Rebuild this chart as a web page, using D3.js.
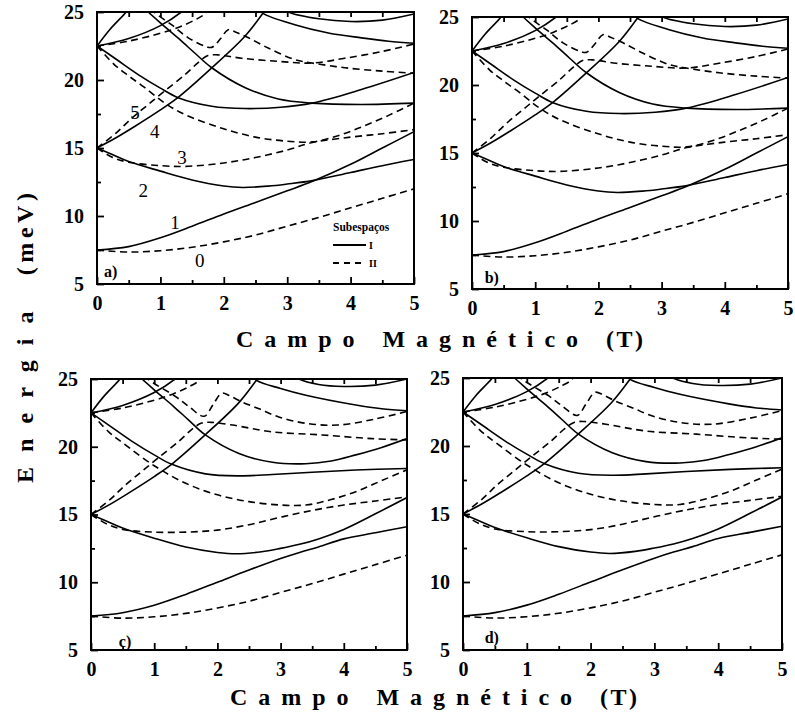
<!DOCTYPE html>
<html>
<head>
<meta charset="utf-8">
<script src="https://cdn.jsdelivr.net/npm/d3@7"></script>
<style>
  body { margin: 0; background: #fff; }
  text { font-family: "Liberation Serif", "Times New Roman", serif; fill: #000; }
</style>
</head>
<body>
<div id="container"></div>
<script>
/* DATA : energy levels (meV) vs magnetic field (T) */
const xTicks = [0, 1, 2, 3, 4, 5];
const yTicks = [5, 10, 15, 20, 25];
const levelNames = ["0", "1", "2", "3", "4", "5"];
const levelNameAt = [[1.62, 6.75], [1.23, 9.55], [0.73, 11.9], [1.34, 14.3], [0.91, 16.2], [0.6, 17.65]];

// panels a) and b) : subspace I (solid)
const solidAB = [
  [[0,7.5],[0.5,7.75],[1,8.4],[1.5,9.25],[2,10.15],[2.5,11.0],[3,11.85],[3.4,12.55],[4,13.8],[4.5,15.0],[5,16.2]],
  [[0,15],[0.25,14.5],[0.5,14.0],[1,13.3],[1.5,12.65],[2,12.2],[2.3,12.1],[2.7,12.2],[3,12.35],[3.4,12.6],[4,13.2],[4.5,13.7],[5,14.15]],
  [[0,15],[0.3,15.75],[0.6,16.6],[1,17.8],[1.3,18.8],[1.8,20.85],[2.33,23.2],[2.6,24.8],[2.7,25.5]],
  [[0,22.5],[0.28,21.6],[0.65,20.4],[1,19.4],[1.28,18.7],[1.81,18.07],[2.33,17.9],[2.9,18.0],[3.39,18.3],[4.17,19.3],[5,20.55]],
  [[0.75,25.3],[0.81,25],[1,24.2],[1.3,23.0],[1.55,21.95],[1.81,20.9],[2.33,19.45],[2.86,18.6],[3.39,18.3],[4.17,18.2],[5,18.3]],
  [[0,22.5],[0.5,23.05],[1,24.0],[1.33,25],[1.4,25.3]],
  [[0,22.5],[0.2,23.7],[0.46,25],[0.5,25.3]],
  [[2.5,25.5],[2.62,24.9],[3.12,24.07],[3.65,23.46],[4.17,23.1],[4.6,22.85],[5,22.7]],
  [[2.95,25.3],[3.02,25],[3.5,24.5],[4,24.3],[4.5,24.4],[5,24.85]]
];
// panels a) and b) : subspace II (dashed)
const dashedAB = [
  [[0,7.5],[0.5,7.35],[1,7.45],[1.5,7.7],[2,8.1],[2.5,8.6],[3,9.25],[3.5,9.9],[4,10.6],[4.5,11.3],[5,12.0]],
  [[0,15],[0.25,14.3],[0.5,13.95],[1,13.7],[1.4,13.65],[2,13.9],[2.5,14.3],[3,14.85],[3.4,15.4],[4,15.8],[4.5,16.05],[5,16.35]],
  [[0,22.5],[0.28,21.1],[0.5,20.3],[0.75,19.45],[1.07,18.3],[1.39,17.45],[1.97,16.45],[2.5,15.8],[3,15.5],[3.4,15.45],[3.8,15.9],[4.2,16.6],[4.6,17.4],[5,18.3]],
  [[0,15],[0.3,16.1],[0.55,17.2],[0.81,18.2],[1.07,19.2],[1.39,20.4],[1.6,21.3],[1.75,21.8],[1.9,21.85],[2.28,21.6],[2.86,21.37],[3.39,21.25],[3.91,21.6],[4.5,22.1],[5,22.65]],
  [[0,22.5],[0.49,22.85],[1.02,23.46],[1.3,23.9],[1.55,24.43],[1.7,24.85],[1.75,25.2]],
  [[0.85,25.3],[0.9,25],[1.18,24.05],[1.44,23.1],[1.7,22.5],[1.81,22.4],[1.95,23.05],[2.07,23.7],[2.2,23.5],[2.39,23.1],[2.7,22.35],[3.12,21.5],[3.39,21.25],[3.91,20.9],[4.5,20.65],[5,20.5]]
];

// panels c) and d) : subspace I (solid)
const solidCD = [
  [[0,7.5],[0.5,7.75],[1,8.3],[1.5,9.1],[2,10.0],[2.5,10.9],[3,11.75],[3.3,12.2],[3.6,12.6],[4,13.2],[4.5,13.65],[5,14.1]],
  [[0,15],[0.25,14.5],[0.5,14.0],[1,13.25],[1.5,12.6],[2,12.2],[2.3,12.1],[2.7,12.25],[3,12.5],[3.3,12.8],[3.6,13.2],[4,13.9],[4.5,15.05],[5,16.25]],
  [[0,15],[0.3,15.75],[0.6,16.6],[1,17.8],[1.3,18.8],[1.8,20.85],[2.33,23.2],[2.6,24.8],[2.7,25.5]],
  [[0,22.5],[0.28,21.6],[0.65,20.4],[1,19.4],[1.28,18.7],[1.81,18.0],[2.34,17.85],[2.87,17.95],[3.5,18.12],[4.19,18.28],[5,18.4]],
  [[0.75,25.3],[0.81,25],[1,24.2],[1.3,23.0],[1.55,21.95],[1.81,20.87],[2.34,19.5],[2.87,18.85],[3.4,18.75],[3.8,18.95],[4.19,19.4],[4.6,19.95],[5,20.6]],
  [[0,22.5],[0.5,23.05],[1,24.0],[1.33,25],[1.4,25.3]],
  [[0,22.5],[0.2,23.7],[0.46,25],[0.5,25.3]],
  [[2.5,25.5],[2.62,24.9],[3.0,24.3],[3.4,23.8],[4.19,23.08],[4.6,22.8],[5,22.65]],
  [[3.2,25.3],[3.29,25],[3.6,24.6],[4.0,24.45],[4.5,24.55],[5,25]]
];
// panels c) and d) : subspace II (dashed)
const dashedCD = [
  [[0,7.5],[0.5,7.35],[1,7.45],[1.5,7.7],[2,8.1],[2.5,8.6],[3,9.25],[3.5,9.9],[4,10.6],[4.5,11.3],[5,12.0]],
  [[0,15],[0.25,14.3],[0.5,13.9],[1,13.7],[1.5,13.7],[2,13.85],[2.5,14.25],[3,14.8],[3.5,15.3],[4,15.7],[4.5,16.0],[5,16.3]],
  [[0,22.5],[0.28,21.1],[0.5,20.3],[1,18.6],[1.5,17.3],[2,16.45],[2.5,15.95],[3,15.7],[3.4,15.7],[3.8,16.1],[4.2,16.7],[4.6,17.5],[5,18.3]],
  [[0,15],[0.3,16.1],[0.55,17.2],[0.81,18.2],[1.07,19.2],[1.39,20.4],[1.6,21.3],[1.75,21.75],[1.9,21.8],[2.24,21.6],[2.87,21.1],[3.66,20.87],[4.45,20.6],[5,20.5]],
  [[0,22.5],[0.49,22.85],[1.02,23.46],[1.3,23.9],[1.55,24.43],[1.7,24.85],[1.75,25.2]],
  [[0.85,25.3],[0.9,25],[1.34,23.7],[1.55,22.96],[1.79,22.25],[1.93,23.1],[2.07,23.95],[2.2,23.75],[2.39,23.3],[2.66,22.8],[2.97,22.2],[3.4,21.73],[3.9,21.6],[4.5,22.05],[5,22.6]]
];

/* LAYOUT */
const width = 795, height = 715;
const panels = [
  { name: "a", left: 97,  right: 414, top: 12,  bottom: 284, solid: solidAB, dashed: dashedAB, tag: "a)", tagAt: [0.11, 5.5] },
  { name: "b", left: 472, right: 788, top: 17,  bottom: 289, solid: solidAB, dashed: dashedAB, tag: "b)", tagAt: [0.2, 5.45] },
  { name: "c", left: 91,  right: 407, top: 379, bottom: 650, solid: solidCD, dashed: dashedCD, tag: "c)", tagAt: [0.44, 5.25] },
  { name: "d", left: 463, right: 782, top: 378, bottom: 650, solid: solidCD, dashed: dashedCD, tag: "d)", tagAt: [0.34, 5.5] }
];

const svg = d3.select("#container")
  .append("svg")
  .attr("width", width)
  .attr("height", height);

panels.forEach(p => {
  const x = d3.scaleLinear().domain([0, 5]).range([p.left, p.right]);
  const y = d3.scaleLinear().domain([5, 25]).range([p.bottom, p.top]);
  const g = svg.append("g").attr("class", "panel-" + p.name);

  g.append("clipPath").attr("id", "clip-" + p.name)
    .append("rect")
    .attr("x", p.left).attr("y", p.top)
    .attr("width", p.right - p.left).attr("height", p.bottom - p.top);

  const line = d3.line()
    .x(d => x(d[0]))
    .y(d => y(d[1]))
    .curve(d3.curveCatmullRom.alpha(0.5));

  const curves = g.append("g").attr("clip-path", `url(#clip-${p.name})`);

  curves.selectAll(".solid")
    .data(p.solid)
    .join("path")
    .attr("class", "solid")
    .attr("d", line)
    .attr("fill", "none")
    .attr("stroke", "#000")
    .attr("stroke-width", 1.6);

  curves.selectAll(".dashed")
    .data(p.dashed)
    .join("path")
    .attr("class", "dashed")
    .attr("d", line)
    .attr("fill", "none")
    .attr("stroke", "#000")
    .attr("stroke-width", 1.6)
    .attr("stroke-dasharray", "7,4.5");

  // inward ticks: bottom and left labelled, top mirrored
  const xAxis = d3.axisBottom(x).tickValues(xTicks).tickSize(-7).tickPadding(12).tickFormat(d3.format("d"));
  const xMinor = d3.axisBottom(x).tickValues(d3.range(0.5, 5, 1)).tickSize(-4).tickFormat("");
  const xTop = d3.axisTop(x).tickValues(d3.range(0.5, 5, 0.5)).tickSize(-5).tickFormat("");
  const yAxis = d3.axisLeft(y).tickValues(yTicks).tickSize(-7).tickPadding(13);
  const yMinor = d3.axisLeft(y).tickValues(d3.range(7.5, 25, 5)).tickSize(-4).tickFormat("");

  [
    [xAxis, `translate(0,${p.bottom})`],
    [xMinor, `translate(0,${p.bottom})`],
    [xTop, `translate(0,${p.top})`],
    [yAxis, `translate(${p.left},0)`],
    [yMinor, `translate(${p.left},0)`]
  ].forEach(([ax, tr]) => {
    const a = g.append("g").attr("transform", tr).call(ax);
    a.select(".domain").remove();
    a.selectAll("line").attr("stroke", "#000").attr("stroke-width", 1.8);
    a.selectAll("text")
      .style("font-family", "'Liberation Serif', serif")
      .style("font-weight", "bold")
      .style("font-size", "20px")
      .attr("fill", "#000");
  });

  // frame
  g.append("rect")
    .attr("x", p.left).attr("y", p.top)
    .attr("width", p.right - p.left).attr("height", p.bottom - p.top)
    .attr("fill", "none")
    .attr("stroke", "#000")
    .attr("stroke-width", 2);

  // panel tag
  g.append("text")
    .attr("x", x(p.tagAt[0]))
    .attr("y", y(p.tagAt[1]))
    .style("font-weight", "bold")
    .style("font-size", "16px")
    .text(p.tag);

  if (p.name === "a") {
    // level numbers
    g.selectAll(".level")
      .data(levelNames)
      .join("text")
      .attr("class", "level")
      .attr("x", (d, i) => x(levelNameAt[i][0]))
      .attr("y", (d, i) => y(levelNameAt[i][1]))
      .attr("dy", "0.35em")
      .attr("text-anchor", "middle")
      .style("font-size", "19px")
      .text(d => d);

    // legend
    const lg = g.append("g").attr("transform", `translate(${p.left + 236},${p.top + 219})`);
    lg.append("text")
      .attr("x", 0).attr("y", 0)
      .style("font-weight", "bold")
      .style("font-size", "11.5px")
      .text("Subespaços");
    lg.append("line")
      .attr("x1", 0).attr("x2", 33).attr("y1", 14).attr("y2", 14)
      .attr("stroke", "#000").attr("stroke-width", 1.8);
    lg.append("text")
      .attr("x", 36).attr("y", 18)
      .style("font-weight", "bold").style("font-size", "10px")
      .text("I");
    lg.append("line")
      .attr("x1", 0).attr("x2", 31).attr("y1", 32).attr("y2", 32)
      .attr("stroke", "#000").attr("stroke-width", 1.8)
      .attr("stroke-dasharray", "6,5");
    lg.append("text")
      .attr("x", 36).attr("y", 36)
      .style("font-weight", "bold").style("font-size", "10px")
      .text("II");
  }
});

// AXIS TITLES
const xTitle = "C a m p o   M a g n é t i c o   (T)";
[[236, 347], [230, 705]].forEach(([tx, ty]) => {
  svg.append("text")
    .attr("x", tx).attr("y", ty)
    .attr("textLength", 407)
    .attr("lengthAdjust", "spacing")
    .style("white-space", "pre")
    .style("font-weight", "bold")
    .style("font-size", "24px")
    .text(xTitle);
});

svg.append("text")
  .attr("transform", "translate(33,483) rotate(-90)")
  .attr("x", 0).attr("y", 0)
  .attr("textLength", 290)
  .attr("lengthAdjust", "spacing")
  .style("white-space", "pre")
  .style("font-weight", "bold")
  .style("font-size", "24px")
  .text("E n e r g i a   (meV)");
</script>
</body>
</html>
